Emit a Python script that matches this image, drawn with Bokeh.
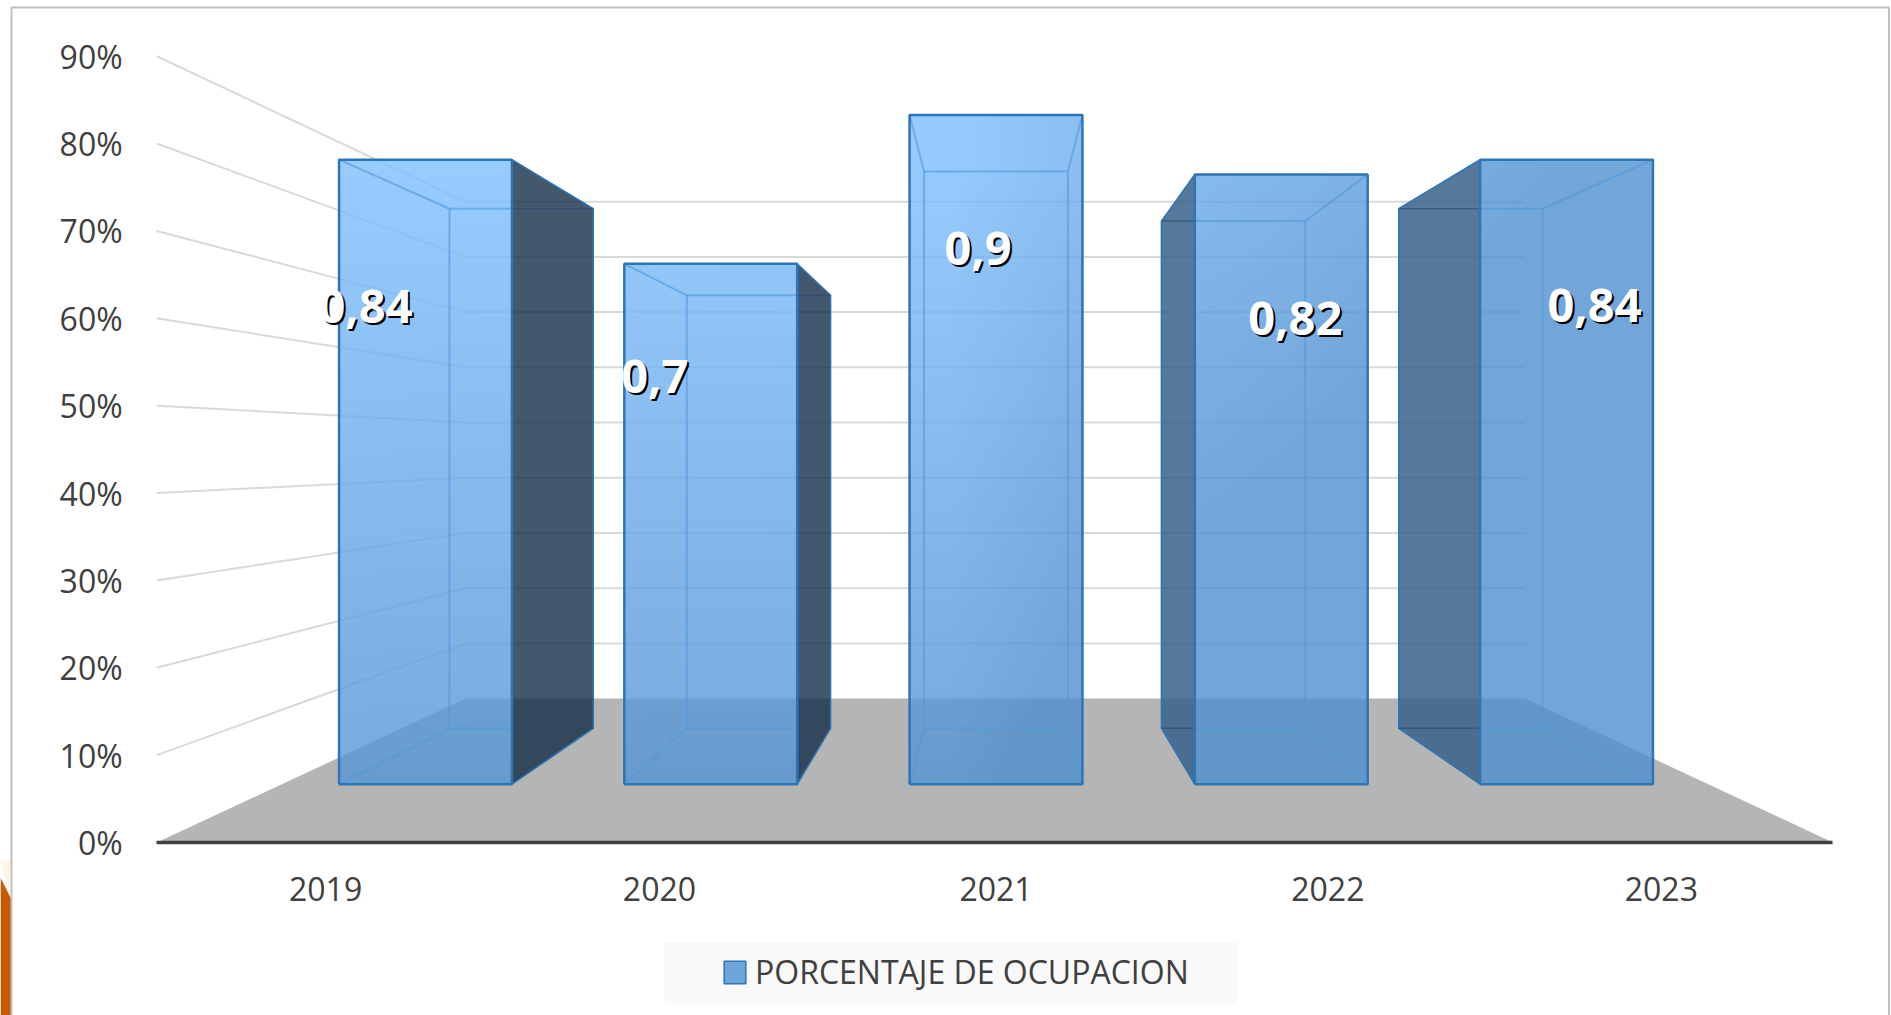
import numpy as np
from bokeh.embed import file_html
from bokeh.resources import INLINE
from bokeh.plotting import figure
from bokeh.core.properties import value
from bokeh.models import (LinearAxis, FixedTicker, NumeralTickFormatter, Range1d, ColumnDataSource,
                          Legend, LegendItem, BoxAnnotation)

# ---------- data ----------
YEARS = ["2019", "2020", "2021", "2022", "2023"]
OCUPACION = [0.84, 0.70, 0.90, 0.82, 0.84]
VALUE_LABELS = ["0,84", "0,7", "0,9", "0,82", "0,84"]
Y_TICKS = [0.0, 0.1, 0.2, 0.3, 0.4, 0.5, 0.6, 0.7, 0.8, 0.9]
SERIES_NAME = "PORCENTAJE DE OCUPACION"

# ---------- layout (screen px of the page) ----------
W, H = 1891, 1015
CAT_PX = 335.2      # px per category on the front plane
CAT2_PX = 995.5     # px of category index 2 (centre)
ZERO_PX = 842.0     # px of 0 %
UNIT_PX = 873.7     # px per 100 %
VP_V = 0.4475       # height of the vanishing point in value units
S_WALL = 0.632      # perspective scale of the back wall
S_FRONT = 0.851     # scale of the bars' front face
S_BACK = 0.708      # scale of the bars' back face
BAR_HALF = 0.303    # half bar width, in categories
WALL_L, WALL_R = -0.504, 4.497   # ends of the floor, in categories
TICK_POS = [0.0, 0.996, 2.0, 2.99, 3.985]   # where the category labels sit


def dx(px):
    return 2 + (px - CAT2_PX) / CAT_PX


def dy(py):
    return (ZERO_PX - py) / UNIT_PX


def proj(c, v, s):
    """Perspective: (category, value, depth scale) to front-plane data coords."""
    return 2 + (c - 2) * s, VP_V + (v - VP_V) * s


GRID = "#d9d9d9"
EDGE = "#2e75b6"
INNER = "#4f97dc"
TXT = "#404040"

p = figure(width=W, height=H, x_range=Range1d(dx(0), dx(W)), y_range=Range1d(dy(H), dy(0)),
           x_axis_type=None, y_axis_type=None, toolbar_location=None, output_backend="svg",
           min_border=0, min_border_left=0, min_border_right=0, min_border_top=0, min_border_bottom=0,
           background_fill_color="white", border_fill_color="white", outline_line_color=None)

# sliver of background picture at the lower left, then the chart frame
p.patch([dx(0), dx(11), dx(11), dx(0)], [dy(877), dy(899), dy(1015), dy(1015)], fill_color="#c85a00", line_color=None)
p.patch([dx(0), dx(11), dx(11)], [dy(860), dy(899), dy(860)], fill_color="#fdf3e6", line_color=None)
p.add_layout(BoxAnnotation(left=11, right=1888.5, top=H - 7, bottom=-40, left_units="screen", right_units="screen",
                           top_units="screen", bottom_units="screen", fill_alpha=0,
                           line_color="#c0c0c0", line_alpha=1, line_width=2))

# floor
fl = [proj(WALL_L, 0, 1), proj(WALL_L, 0, S_WALL), proj(WALL_R, 0, S_WALL), proj(WALL_R, 0, 1)]
p.patch([a for a, _ in fl], [b for _, b in fl], fill_color="#b5b5b5", line_color=None)

# gridlines: left wall and back wall
for t in Y_TICKS[1:]:
    pts = [proj(WALL_L, t, 1), proj(WALL_L, t, S_WALL), proj(WALL_R, t, S_WALL)]
    p.line([a for a, _ in pts], [b for _, b in pts], line_color=GRID, line_width=2)

# axes
yax = LinearAxis(fixed_location=WALL_L, ticker=FixedTicker(ticks=Y_TICKS),
                 formatter=NumeralTickFormatter(format="0%"), axis_line_color=None,
                 major_tick_line_color=None, minor_tick_line_color=None, major_label_standoff=28,
                 major_label_text_font="Open Sans", major_label_text_font_size="32px",
                 major_label_text_color=TXT)
p.add_layout(yax, "left")
xax = LinearAxis(fixed_location=0, bounds=(WALL_L, WALL_R), ticker=FixedTicker(ticks=TICK_POS),
                 major_label_overrides=dict(zip(TICK_POS, YEARS)),
                 axis_line_color=TXT, axis_line_width=3.5, major_tick_line_color=None,
                 minor_tick_line_color=None, major_label_standoff=28,
                 major_label_text_font="Open Sans", major_label_text_font_size="32px",
                 major_label_text_color=TXT)
p.add_layout(xax, "below")


def front_rgba(xl, xr, yb, yt):
    """Translucent face whose tint darkens toward the lower right of the chart."""
    ny, nx = 220, 70
    xs = CAT2_PX + (np.linspace(xl, xr, nx) - 2) * CAT_PX
    ys = ZERO_PX - np.linspace(yb, yt, ny) * UNIT_PX
    X, Y = np.meshgrid(xs, ys)
    t = np.interp(X, [340, 950, 1083, 1280, 1550], [0, .03, .35, .55, .95]) + 0.0014 * np.maximum(Y - 160, 0)
    t = np.clip(t, 0, 1)[..., None]
    c = np.array([127, 191, 255]) * (1 - t) + np.array([79, 144, 207]) * t
    img = np.zeros((ny, nx), dtype=np.uint32)
    view = img.view(dtype=np.uint8).reshape((ny, nx, 4))
    view[..., :3] = c.astype(np.uint8)
    view[..., 3] = 204
    return img


for i, v in enumerate(OCUPACION):
    lo, hi = i - BAR_HALF, i + BAR_HALF
    fl_x, f0 = proj(lo, 0, S_FRONT)
    fr_x, ft = proj(hi, v, S_FRONT)
    bl_x, b0 = proj(lo, 0, S_BACK)
    br_x, bt = proj(hi, v, S_BACK)

    # outer side faces
    if br_x > fr_x:
        p.patch([fr_x, br_x, br_x, fr_x], [ft, bt, b0, f0], fill_color="#0f2944", fill_alpha=0.78,
                line_color=EDGE, line_width=1.5)
        p.line([fr_x, br_x], [bt, bt], line_color="#2a4a6a", line_width=1.5, line_alpha=0.6)
        p.line([fr_x, br_x], [b0, b0], line_color="#2a4a6a", line_width=1.5, line_alpha=0.6)
    if bl_x < fl_x:
        p.patch([fl_x, bl_x, bl_x, fl_x], [ft, bt, b0, f0], fill_color="#386189", fill_alpha=0.85,
                line_color=EDGE, line_width=1.5)
        p.line([bl_x, fl_x], [bt, bt], line_color="#2a4a6a", line_width=1.5, line_alpha=0.6)
        p.line([bl_x, fl_x], [b0, b0], line_color="#2a4a6a", line_width=1.5, line_alpha=0.6)

    # front face
    p.image_rgba(image=[front_rgba(fl_x, fr_x, f0, ft)], x=fl_x, y=f0, dw=fr_x - fl_x, dh=ft - f0)

    # edges seen through the front face
    il, ir = max(bl_x, fl_x), min(br_x, fr_x)
    p.line([il, ir], [bt, bt], line_color=INNER, line_width=2, line_alpha=0.6)
    p.line([il, ir], [b0, b0], line_color=INNER, line_width=2, line_alpha=0.6)
    if bl_x >= fl_x:
        p.line([fl_x, bl_x, bl_x, fl_x], [ft, bt, b0, f0], line_color=INNER, line_width=2, line_alpha=0.6)
    if br_x <= fr_x:
        p.line([fr_x, br_x, br_x, fr_x], [ft, bt, b0, f0], line_color=INNER, line_width=2, line_alpha=0.6)

    # front outline
    p.line([fl_x, fr_x, fr_x, fl_x, fl_x], [f0, f0, ft, ft, f0], line_color=EDGE, line_width=2.5)

# value labels, placed relative to the top centre of each front face
LABEL_DX = [-60, -56, -18, 14, 28]
LABEL_DY = [147, 113, 133, 144, 146]
lab = ColumnDataSource(dict(
    x=[proj(i, 0, S_FRONT)[0] for i in range(5)],
    y=[proj(0, v, S_FRONT)[1] for v in OCUPACION],
    t=VALUE_LABELS,
    dx=LABEL_DX, dy=LABEL_DY,
    sdx=[d + 2 for d in LABEL_DX], sdy=[d + 2 for d in LABEL_DY]))
p.text(x="x", y="y", text="t", x_offset="sdx", y_offset="sdy", source=lab, text_align="center",
       text_baseline="middle", text_color="#000000", text_font=value("Open Sans"), text_font_style="bold",
       text_font_size="47px")
p.text(x="x", y="y", text="t", x_offset="dx", y_offset="dy", source=lab, text_align="center",
       text_baseline="middle", text_color="#ffffff", text_font=value("Open Sans"), text_font_style="bold",
       text_font_size="47px")

# legend
p.add_layout(BoxAnnotation(left=664, right=1237, top=H - 942, bottom=H - 1003,
                           left_units="screen", right_units="screen", top_units="screen", bottom_units="screen",
                           fill_color="#f9f9f9", fill_alpha=1, line_color=None))
swatch = p.quad(left=[float("nan")], right=[float("nan")], top=[float("nan")], bottom=[float("nan")],
                fill_color="#6ea6dc", line_color=EDGE, line_width=1.5)
legend = Legend(items=[LegendItem(label=SERIES_NAME, renderers=[swatch])], location=(721, 22),
                background_fill_alpha=0, border_line_color=None, padding=0, margin=0,
                glyph_width=27, glyph_height=28, label_standoff=7, label_text_font="Open Sans",
                label_text_font_size="32px", label_text_color=TXT)
p.add_layout(legend, "center")

open("out.html", "w").write(file_html(p, INLINE))
